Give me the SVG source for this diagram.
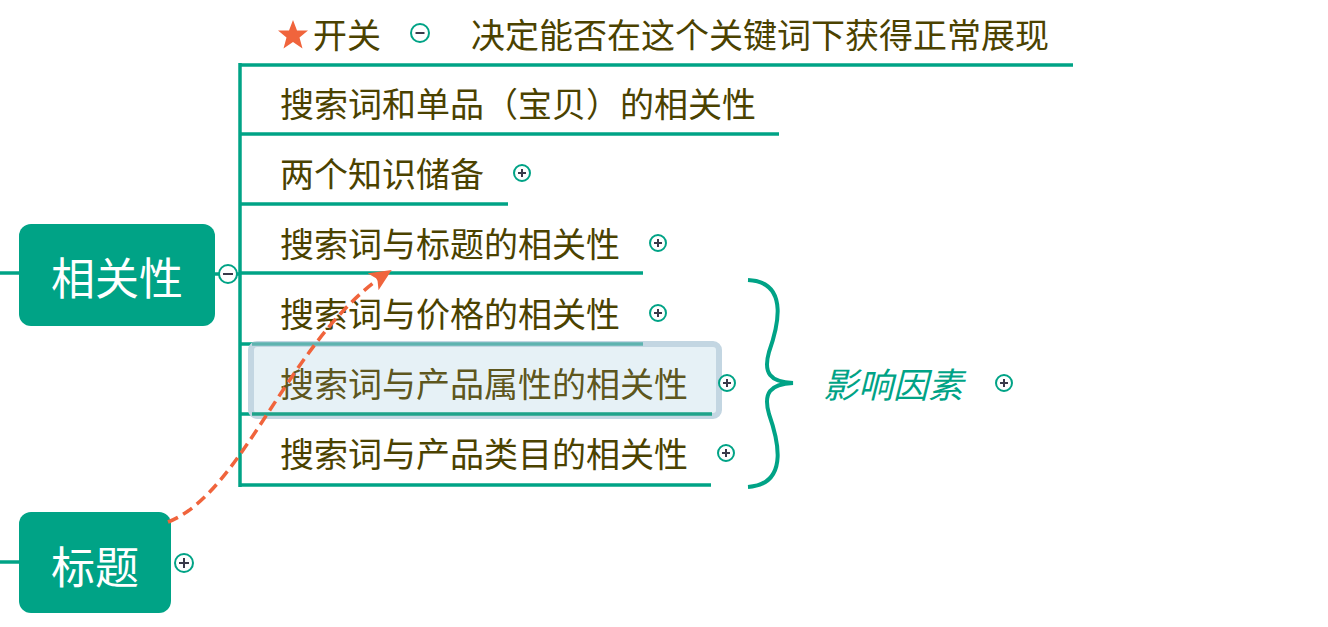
<svg xmlns="http://www.w3.org/2000/svg" width="1328" height="627" viewBox="0 0 1328 627">
<defs>
<style>
.t{font-family:"Noto Sans CJK SC","Microsoft YaHei",sans-serif;font-size:34px;fill:#4B4200}
.w{font-family:"Noto Sans CJK SC","Microsoft YaHei",sans-serif;font-size:44px;fill:#ffffff;text-anchor:middle}
.ln{stroke:#00A386;stroke-width:3.5;fill:none}
.cb{fill:#ffffff;stroke:#00A386;stroke-width:2}
.sg{stroke:#3a3a4a;stroke-width:2}
</style>
<marker id="ah" markerWidth="22" markerHeight="20" refX="20" refY="10" orient="auto" markerUnits="userSpaceOnUse" viewBox="0 0 22 20">
<path d="M0,0 L22,10 L0,20 L5,10 Z" fill="#F0643C"/>
</marker>
</defs>
<rect width="1328" height="627" fill="#ffffff"/>
<g id="connectors">
<line class="ln" x1="0" y1="273" x2="19" y2="273"/>
<line class="ln" x1="0" y1="562" x2="19" y2="562"/>
<line class="ln" x1="215" y1="274" x2="240" y2="274"/>
<line class="ln" x1="240" y1="63" x2="240" y2="487"/>
<line class="ln" x1="240" y1="65" x2="1073" y2="65"/>
<line class="ln" x1="240" y1="134" x2="779" y2="134"/>
<line class="ln" x1="240" y1="204" x2="508" y2="204"/>
<line class="ln" x1="240" y1="273" x2="643" y2="273"/>
<line class="ln" x1="240" y1="344" x2="643" y2="344"/>
<line class="ln" x1="240" y1="414" x2="712" y2="414"/>
<line class="ln" x1="240" y1="485" x2="711" y2="485"/>
</g>
<g id="node-xgx">
<rect x="19" y="224" width="196" height="102" rx="12" fill="#00A386"/>
<text class="w" x="117" y="295">相关性</text>
<circle class="cb" cx="228" cy="274" r="9"/>
<line class="sg" x1="223" y1="274" x2="233" y2="274" stroke="#8a9aa8"/>
</g>
<g id="node-bt">
<rect x="19" y="512" width="152" height="101" rx="12" fill="#00A386"/>
<text class="w" x="95" y="584">标题</text>
<circle class="cb" cx="184" cy="563" r="9"/>
<line class="sg" x1="179" y1="563" x2="189" y2="563"/>
<line class="sg" x1="184" y1="558" x2="184" y2="568"/>
</g>
<g id="node-kg">
<polygon points="293,20 297,30.5 308,30.5 299.5,37.5 302.5,48.5 293,42 283.5,48.5 286.5,37.5 278,30.5 289,30.5" fill="#F0643C"/>
<text class="t" x="313" y="48">开关</text>
<circle class="cb" cx="420" cy="33" r="9"/>
<line class="sg" x1="415.5" y1="33" x2="424.5" y2="33" stroke="#8a9aa8"/>
</g>
<g id="node-jd">
<text class="t" x="471" y="48">决定能否在这个关键词下获得正常展现</text>
</g>
<g id="node-dp">
<text class="t" x="280" y="117">搜索词和单品（宝贝）的相关性</text>
</g>
<g id="node-zs">
<text class="t" x="280" y="187">两个知识储备</text>
<circle class="cb" cx="522" cy="173" r="8"/>
<line class="sg" x1="518" y1="173" x2="526" y2="173"/>
<line class="sg" x1="522" y1="169" x2="522" y2="177"/>
</g>
<g id="node-bti">
<text class="t" x="280" y="257">搜索词与标题的相关性</text>
<circle class="cb" cx="658" cy="243" r="8"/>
<line class="sg" x1="654" y1="243" x2="662" y2="243"/>
<line class="sg" x1="658" y1="239" x2="658" y2="247"/>
</g>
<g id="node-jg">
<text class="t" x="280" y="327">搜索词与价格的相关性</text>
<circle class="cb" cx="658" cy="313" r="8"/>
<line class="sg" x1="654" y1="313" x2="662" y2="313"/>
<line class="sg" x1="658" y1="309" x2="658" y2="317"/>
</g>
<g id="node-sx">
<rect x="251" y="344" width="468" height="72" rx="6" fill="#E3EFF5" fill-opacity="0.9" stroke="#C3D6E2" stroke-width="6"/>
<line x1="252" y1="344" x2="643" y2="344" stroke="#5FB3B0" stroke-width="3.5"/>
<line x1="252" y1="414" x2="712" y2="414" stroke="#1FA38A" stroke-width="3.5"/>
<text class="t" x="280" y="397" fill-opacity="0.9">搜索词与产品属性的相关性</text>
<circle class="cb" cx="727" cy="383" r="8"/>
<line class="sg" x1="723" y1="383" x2="731" y2="383"/>
<line class="sg" x1="727" y1="379" x2="727" y2="387"/>
</g>
<g id="node-lm">
<text class="t" x="280" y="467">搜索词与产品类目的相关性</text>
<circle class="cb" cx="726" cy="453" r="8"/>
<line class="sg" x1="722" y1="453" x2="730" y2="453"/>
<line class="sg" x1="726" y1="449" x2="726" y2="457"/>
</g>
<g id="node-brace">
<path d="M748,280 C792,282 776,332 769,352 C763,373 770,382 793,383 C770,384 763,393 769,414 C776,434 792,484 748,487" fill="none" stroke="#00A386" stroke-width="4"/>
</g>
<g id="node-yx">
<text x="823" y="398" font-family="Noto Sans CJK SC, sans-serif" font-size="35" font-style="italic" fill="#00A386">影响因素</text>
<circle class="cb" cx="1004" cy="383" r="8"/>
<line class="sg" x1="1000" y1="383" x2="1008" y2="383"/>
<line class="sg" x1="1004" y1="379" x2="1004" y2="387"/>
</g>
<g id="relation">
<path d="M168,522 C245,492 290,335 390,271" fill="none" stroke="#F0643C" stroke-width="3.5" stroke-dasharray="11,6" marker-end="url(#ah)"/>
</g>
</svg>
